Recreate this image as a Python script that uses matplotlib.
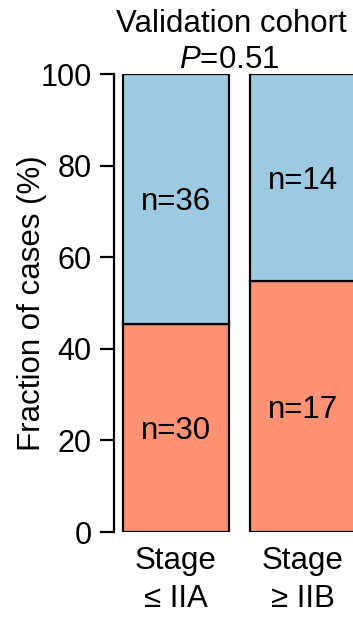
import matplotlib
matplotlib.use("Agg")
import matplotlib.pyplot as plt

categories = ["Stage\n≤ IIA", "Stage\n≥ IIB"]
n_low = [30, 17]    # red (bottom)
n_high = [36, 14]   # blue (top)
title = "Validation cohort"
pval = "0.51"
yticks = [0, 20, 40, 60, 80, 100]

plt.rcParams['font.family'] = ['Liberation Sans', 'DejaVu Sans']
plt.rcParams['mathtext.fontset'] = 'custom'
plt.rcParams['mathtext.it'] = 'Liberation Sans:italic'

W, H = 353, 619
fig = plt.figure(figsize=(W/100, H/100), dpi=100)
ax_left, ax_right = 114/W, 1.0
ax_bottom, ax_top = (H-532)/H, (H-74)/H
ax = fig.add_axes([ax_left, ax_bottom, ax_right-ax_left, ax_top-ax_bottom])

red = '#fc9272'
blue = '#9ecae1'
x = [0, 1]
width = 106/127
low_pct = [100*a/(a+b) for a, b in zip(n_low, n_high)]
high_pct = [100 - p for p in low_pct]

ax.bar(x, low_pct, width=width, color=red, edgecolor='black', linewidth=1.6)
ax.bar(x, high_pct, bottom=low_pct, width=width, color=blue, edgecolor='black', linewidth=1.6)

fs = 22.5
for xi, lp, hp, nl, nh in zip(x, low_pct, high_pct, n_low, n_high):
    ax.text(xi, lp/2, f"n={nl}", ha='center', va='center_baseline', fontsize=fs)
    ax.text(xi, lp + hp/2, f"n={nh}", ha='center', va='center_baseline', fontsize=fs)

ax.set_xlim((114-176)/127, (353-176)/127)
ax.set_ylim(0, 100)
for s in ['top', 'right', 'bottom']:
    ax.spines[s].set_visible(False)
ax.spines['left'].set_linewidth(1.6)
ax.set_yticks(yticks)
ax.set_yticklabels([str(t) for t in yticks], fontsize=22)
ax.tick_params(axis='y', length=10, width=1.6, pad=6)
ax.set_xticks(x)
ax.set_xticklabels(categories, fontsize=fs, linespacing=1.35)
ax.tick_params(axis='x', length=0, pad=10)
ax.set_ylabel("Fraction of cases (%)", fontsize=fs)
ax.yaxis.set_label_coords(-(114-47)/239, 0.5)

fig.text(231/W, 1 - 21/H, title, ha='center', va='center_baseline', fontsize=fs)
fig.text(229/W, 1 - 56/H, r"$\it{P}$=" + pval, ha='center', va='center_baseline', fontsize=fs)

fig.savefig("out.png", dpi=100)
